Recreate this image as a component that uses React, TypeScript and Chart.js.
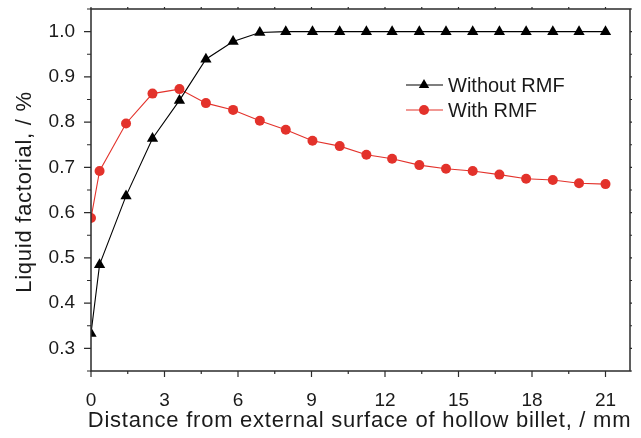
import React, { useEffect, useRef } from "react";
import { Chart, registerables } from "chart.js";

Chart.register(...registerables);

const distances = [0, 0.35, 1.43, 2.51, 3.61, 4.69, 5.8, 6.89, 7.95, 9.04, 10.15, 11.24, 12.29, 13.4, 14.49, 15.58, 16.67, 17.76, 18.85, 19.92, 21.0];
const withoutRMF = [0.333, 0.485, 0.637, 0.764, 0.848, 0.939, 0.978, 0.998, 1.0, 1.0, 1.0, 1.0, 1.0, 1.0, 1.0, 1.0, 1.0, 1.0, 1.0, 1.0, 1.0];
const withRMF = [0.588, 0.692, 0.797, 0.863, 0.873, 0.842, 0.827, 0.803, 0.783, 0.759, 0.747, 0.728, 0.719, 0.705, 0.697, 0.692, 0.684, 0.675, 0.672, 0.665, 0.663];

const xTicks = [0, 3, 6, 9, 12, 15, 18, 21];
const xMinorTicks = [1.5, 4.5, 7.5, 10.5, 13.5, 16.5, 19.5];
const yTicks = [0.3, 0.4, 0.5, 0.6, 0.7, 0.8, 0.9, 1.0];
const yMinorTicks = [0.25, 0.35, 0.45, 0.55, 0.65, 0.75, 0.85, 0.95, 1.05];

const seriesLabels = ["Without RMF", "With RMF"];
const xTitle = "Distance from external surface of hollow billet, / mm";
const yTitle = "Liquid factorial, / %";

const RED = "#e3322b";
const FONT = "'Liberation Sans', Arial, Helvetica, sans-serif";

const framePlugin = {
  id: "frameTicks",
  afterDatasetsDraw(chart: any) {
    const { ctx, chartArea } = chart;
    const { left, right, top, bottom } = chartArea;
    const xs = chart.scales.x;
    const ys = chart.scales.y;
    ctx.save();
    ctx.strokeStyle = "#2b2b2b";
    ctx.lineWidth = 1.5;
    ctx.strokeRect(left, top, right - left, bottom - top);
    ctx.lineWidth = 1.2;
    ctx.beginPath();
    const xt = (v: number, major: boolean) => {
      const p = xs.getPixelForValue(v);
      ctx.moveTo(p, bottom);
      ctx.lineTo(p, bottom + (major ? 6 : 3));
      ctx.moveTo(p, top);
      ctx.lineTo(p, top - 2);
    };
    const yt = (v: number, major: boolean) => {
      const p = ys.getPixelForValue(v);
      ctx.moveTo(left, p);
      ctx.lineTo(left - (major ? 7 : 4), p);
      ctx.moveTo(right, p);
      ctx.lineTo(right + 2, p);
    };
    xTicks.forEach((v) => xt(v, true));
    xMinorTicks.forEach((v) => xt(v, false));
    yTicks.forEach((v) => yt(v, true));
    yMinorTicks.forEach((v) => yt(v, false));
    ctx.stroke();
    ctx.restore();
  },
};

const titlePlugin = {
  id: "axisTitles",
  afterDraw(chart: any) {
    const { ctx, chartArea } = chart;
    ctx.save();
    ctx.fillStyle = "#1a1a1a";
    ctx.font = `22px ${FONT}`;
    ctx.textAlign = "center";
    ctx.textBaseline = "middle";
    try {
      (ctx as any).letterSpacing = "0.75px";
    } catch (e) {}
    ctx.fillText(xTitle, (chartArea.left + chartArea.right) / 2 - 1, 421);
    ctx.translate(25, 192);
    ctx.rotate(-Math.PI / 2);
    ctx.fillText(yTitle, 0, 0);
    ctx.restore();
  },
};

const legendPlugin = {
  id: "insideLegend",
  afterDraw(chart: any) {
    const { ctx } = chart;
    const rows = [
      { y: 85, color: "#000000", style: "triangle" },
      { y: 110, color: RED, style: "circle" },
    ];
    ctx.save();
    rows.forEach((r, i) => {
      const label = chart.data.datasets[i].label;
      ctx.strokeStyle = r.color;
      ctx.lineWidth = 1.2;
      ctx.beginPath();
      ctx.moveTo(406, r.y);
      ctx.lineTo(443, r.y);
      ctx.stroke();
      ctx.fillStyle = r.color;
      ctx.beginPath();
      if (r.style === "triangle") {
        const rad = 6;
        let a = 0;
        ctx.moveTo(424 + Math.sin(a) * rad, r.y - Math.cos(a) * rad);
        a += (2 * Math.PI) / 3;
        ctx.lineTo(424 + Math.sin(a) * rad, r.y - Math.cos(a) * rad);
        a += (2 * Math.PI) / 3;
        ctx.lineTo(424 + Math.sin(a) * rad, r.y - Math.cos(a) * rad);
        ctx.closePath();
      } else {
        ctx.arc(424, r.y, 5, 0, Math.PI * 2);
      }
      ctx.fill();
      ctx.fillStyle = "#1a1a1a";
      ctx.font = `20px ${FONT}`;
      ctx.textBaseline = "middle";
      ctx.textAlign = "left";
      ctx.fillText(label, 448, r.y + 1);
    });
    ctx.restore();
  },
};

const zeroPad = (s: any) => {
  s.paddingTop = 0;
  s.paddingBottom = 0;
  s.paddingLeft = 0;
  s.paddingRight = 0;
};

export default function App() {
  const canvasRef = useRef<HTMLCanvasElement | null>(null);

  useEffect(() => {
    if (!canvasRef.current) return;
    const chart = new Chart(canvasRef.current, {
      type: "line",
      data: {
        datasets: [
          {
            label: seriesLabels[0],
            data: distances.map((x, i) => ({ x, y: withoutRMF[i] })),
            borderColor: "#000000",
            backgroundColor: "#000000",
            borderWidth: 1.1,
            pointStyle: "triangle",
            pointRadius: 6.5,
            pointBorderWidth: 0,
            tension: 0,
          },
          {
            label: seriesLabels[1],
            data: distances.map((x, i) => ({ x, y: withRMF[i] })),
            borderColor: RED,
            backgroundColor: RED,
            borderWidth: 1.1,
            pointStyle: "circle",
            pointRadius: 5,
            pointBorderWidth: 0,
            tension: 0,
          },
        ],
      },
      options: {
        animation: false,
        responsive: false,
        maintainAspectRatio: false,
        layout: { padding: { top: 9, right: 11, left: 0, bottom: 0 } },
        plugins: {
          legend: { display: false },
          tooltip: { enabled: false },
        },
        scales: {
          x: {
            type: "linear",
            min: 0,
            max: 22,
            grid: { display: false, drawTicks: false },
            border: { display: false },
            afterBuildTicks: (s: any) => {
              s.ticks = xTicks.map((v) => ({ value: v }));
            },
            afterFit: (s: any) => {
              s.height = 67;
              zeroPad(s);
            },
            ticks: {
              autoSkip: false,
              maxRotation: 0,
              padding: 18,
              color: "#1a1a1a",
              font: { family: FONT, size: 19 },
              callback: (v: any) => String(v),
            },
          },
          y: {
            type: "linear",
            min: 0.25,
            max: 1.05,
            grid: { display: false, drawTicks: false },
            border: { display: false },
            afterBuildTicks: (s: any) => {
              s.ticks = yTicks.map((v) => ({ value: v }));
            },
            afterFit: (s: any) => {
              s.width = 91;
              zeroPad(s);
            },
            ticks: {
              autoSkip: false,
              padding: 16,
              color: "#1a1a1a",
              font: { family: FONT, size: 19 },
              callback: (v: any) => Number(v).toFixed(1),
            },
          },
        },
      },
      plugins: [framePlugin, legendPlugin, titlePlugin],
    });
    return () => chart.destroy();
  }, []);

  return (
    <div style={{ position: "fixed", left: 0, top: 0, width: 641, height: 438, background: "#fff" }}>
      <canvas ref={canvasRef} width={641} height={438} style={{ width: 641, height: 438, display: "block" }} />
    </div>
  );
}
